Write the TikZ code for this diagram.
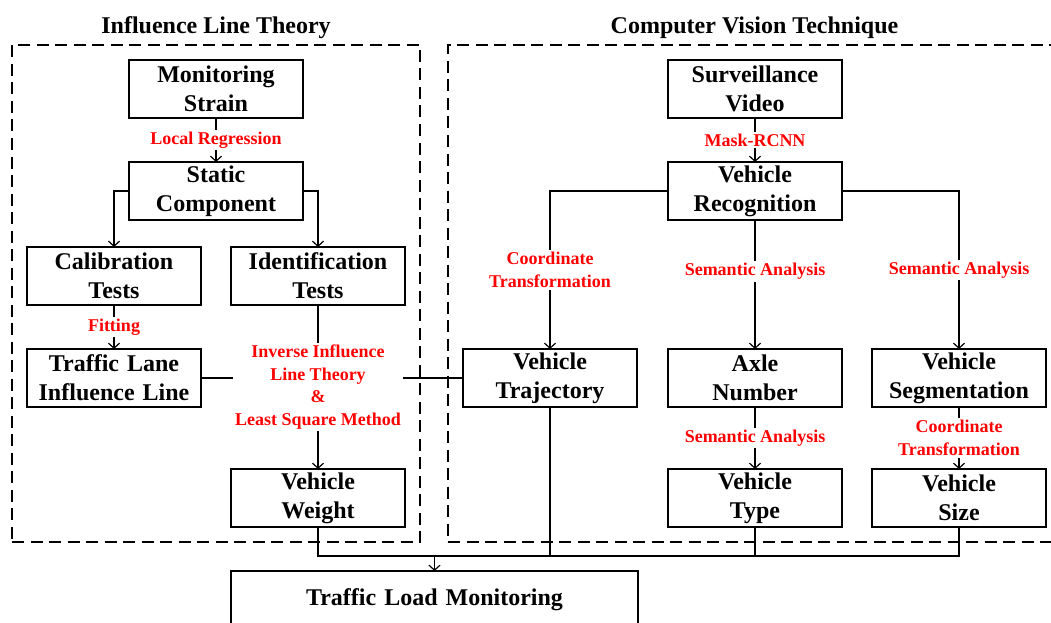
\documentclass[tikz,border=0pt]{standalone}
\usepackage{fontspec}
\setmainfont{Liberation Serif}
\usepackage{tikz}
\usetikzlibrary{arrows.meta, positioning, fit}
\tikzset{
  procbox/.style={
    rectangle, draw=black, line width=1.4pt,
    font=\fontsize{24}{29}\selectfont\bfseries,
    text width=170pt, align=center,
    minimum width=174pt, minimum height=58pt, inner sep=0pt, outer sep=0pt
  },
  lbl/.style={
    fill=white, text=red, inner sep=2pt,
    font=\fontsize{18}{22.5}\selectfont\bfseries, align=center
  },
  ttl/.style={font=\fontsize{24}{29}\selectfont\bfseries},
  line/.style={draw=black, line width=1.2pt},
  arr/.style={line, -{Straight Barb[length=5pt, width=11pt]}},
  group/.style={draw=black, line width=1.3pt, dash pattern=on 12pt off 6.5pt, inner sep=15pt, outer sep=0pt}
}

\begin{document}
\begin{tikzpicture}[x=1pt, y=-1pt, node distance=44pt and 30pt]
  \useasboundingbox (0,0) rectangle (1051,623);

  % --- Influence line side ---
  \node[procbox] (strain) at (216,89) {Monitoring\\Strain};
  \node[procbox, below=44pt of strain] (static) {Static\\Component};
  \node[procbox] (calib) at (114,276) {Calibration\\Tests};
  \node[procbox, right=30pt of calib] (ident) {Identification\\Tests};
  \node[procbox, below=44pt of calib] (lane) {Traffic Lane\\Influence Line};
  \node[procbox, below=164pt of ident] (weight) {Vehicle\\Weight};

  % --- Computer vision side ---
  \node[procbox] (video) at (755,89) {Surveillance\\Video};
  \node[procbox, below=44pt of video] (recog) {Vehicle\\Recognition};
  \node[procbox, below=129pt of recog] (axle) {Axle\\Number};
  \node[procbox, left=31pt of axle] (traj) {Vehicle\\Trajectory};
  \node[procbox, right=30pt of axle] (seg) {Vehicle\\Segmentation};
  \node[procbox, below=62pt of axle] (type) {Vehicle\\Type};
  \node[procbox, below=62pt of seg] (size) {Vehicle\\Size};

  \node[procbox, minimum width=407pt, text width=400pt] (load) at (434.5,600) {Traffic Load Monitoring};

  % --- Groupes (dashed frames) ---
  \node[group, fit=(strain) (calib) (ident) (lane) (weight), label={[ttl, label distance=3pt]above:Influence Line Theory}] (grpL) {};
  \node[group, fit=(video) (traj) (seg) (size), label={[ttl, label distance=3pt]above:Computer Vision Technique}] (grpR) {};

  % --- Connexions ---
  \draw[arr] (strain) -- (static) node[lbl, midway] {Local Regression};
  \draw[arr] (static.west) -| (calib.north);
  \draw[arr] (static.east) -| (ident.north);
  \draw[arr] (calib) -- (lane) node[lbl, midway] {Fitting};
  \draw[line] (lane.east) -- (traj.west);
  \draw[arr] (ident) -- (weight) node[lbl, midway] {Inverse Influence\\Line Theory\\\&\\Least Square Method};

  \draw[arr] (video) -- (recog) node[lbl, midway] {Mask-RCNN};
  \draw[arr] (recog.west) -| (traj.north) node[lbl, pos=0.75] {Coordinate\\Transformation};
  \draw[arr] (recog) -- (axle) node[lbl, pos=0.4] {Semantic Analysis};
  \draw[arr] (recog.east) -| (seg.north) node[lbl, pos=0.75] {Semantic Analysis};
  \draw[arr] (axle) -- (type) node[lbl, midway] {Semantic Analysis};
  \draw[arr] (seg) -- (size) node[lbl, midway] {Coordinate\\Transformation};

  % --- Collecting bus ---
  \coordinate[below=29pt of weight.south] (bus);
  \draw[line] (weight.south) -- (bus) -| (size.south);
  \draw[line] (traj.south) -- (traj.south |- bus);
  \draw[line] (type.south) -- (type.south |- bus);
  \draw[arr] (load.north |- bus) -- (load.north);

\end{tikzpicture}
\end{document}
